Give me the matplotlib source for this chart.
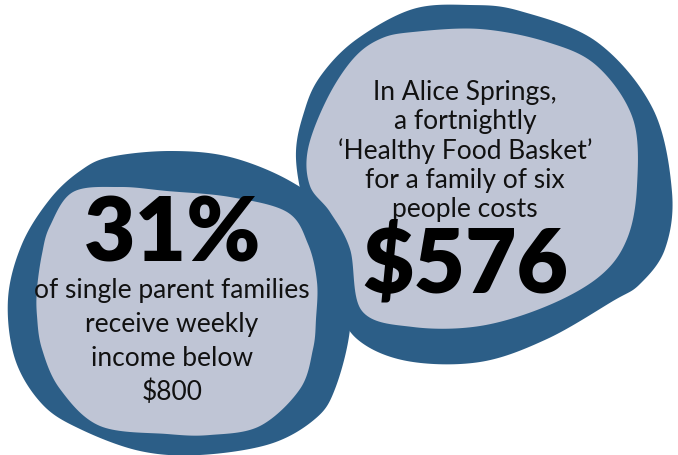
import numpy as np
import matplotlib
matplotlib.use("Agg")
import matplotlib.pyplot as plt
from matplotlib.patches import Polygon

# ---- content ----
headline_values = ["31%", "$576"]
left_lines = ["of single parent families", "receive weekly", "income below", "$800"]
right_lines = ["In Alice Springs,", "a fortnightly", "\u2018Healthy Food Basket\u2019",
               "for a family of six", "people costs"]

DARK = "#2c5e87"
LIGHT = "#bfc5d5"

# ---- blob outlines (pixel coords, y down) ----
left_outer = [(110, 158), (170, 152), (230, 158), (290, 182), (330, 215), (348, 270),
              (350, 330), (335, 390), (315, 420), (270, 445), (200, 456), (140, 452),
              (80, 430), (42, 405), (15, 360), (8, 300), (22, 245), (50, 200), (80, 172)]
left_fill = [(73, 193), (120, 188), (167, 192), (230, 198), (287, 213), (308, 245),
             (317, 283), (316, 320), (313, 350), (300, 390), (260, 427), (210, 436),
             (167, 435), (100, 427), (60, 390), (42, 350), (37, 317), (37, 290),
             (42, 255), (50, 227)]
right_outer = [(357, 40), (413, 10), (470, 6), (520, 12), (597, 43), (653, 110),
               (672, 193), (665, 250), (640, 285), (613, 302), (547, 340), (480, 363),
               (407, 362), (357, 340), (335, 300), (310, 230), (296, 160), (305, 110),
               (322, 75)]
right_fill = [(380, 40), (413, 33), (480, 30), (547, 43), (597, 67), (633, 120),
              (637, 187), (627, 240), (600, 277), (547, 307), (480, 327), (413, 328),
              (362, 312), (350, 250), (330, 213), (310, 187), (308, 150), (327, 100),
              (353, 60)]


def smooth(pts, n=20):
    p = np.array(pts, dtype=float)
    m = len(p)
    out = []
    for i in range(m):
        p0, p1, p2, p3 = p[(i - 1) % m], p[i], p[(i + 1) % m], p[(i + 2) % m]
        for t in np.linspace(0, 1, n, endpoint=False):
            t2, t3 = t * t, t * t * t
            out.append(0.5 * ((2 * p1) + (-p0 + p2) * t + (2 * p0 - 5 * p1 + 4 * p2 - p3) * t2
                              + (-p0 + 3 * p1 - 3 * p2 + p3) * t3))
    return np.array(out)


W, H = 678, 456
fig = plt.figure(figsize=(W / 100, H / 100), dpi=100)
ax = fig.add_axes([0, 0, 1, 1])
ax.set_xlim(0, W)
ax.set_ylim(H, 0)
ax.axis("off")

for pts in (left_outer, right_outer):
    ax.add_patch(Polygon(smooth(pts), closed=True, facecolor=DARK, edgecolor="none"))
for pts in (left_fill, right_fill):
    ax.add_patch(Polygon(smooth(pts), closed=True, facecolor=LIGHT, edgecolor="none"))

FONT = "Lato"
big = dict(family=FONT, fontweight="heavy", fontsize=64, ha="center", va="baseline", color="black")
body = dict(family=FONT, fontweight="normal", fontsize=19, ha="center", va="baseline",
            color="#111111")

ax.text(173, 262, headline_values[0], **big)
for i, line in enumerate(left_lines):
    ax.text(172, 298 + i * 34, line, **body)

for i, line in enumerate(right_lines):
    ax.text(465, 100 + i * 29.3, line, **body)
ax.text(465, 293, headline_values[1], **big)

fig.savefig("out.png", dpi=100)
